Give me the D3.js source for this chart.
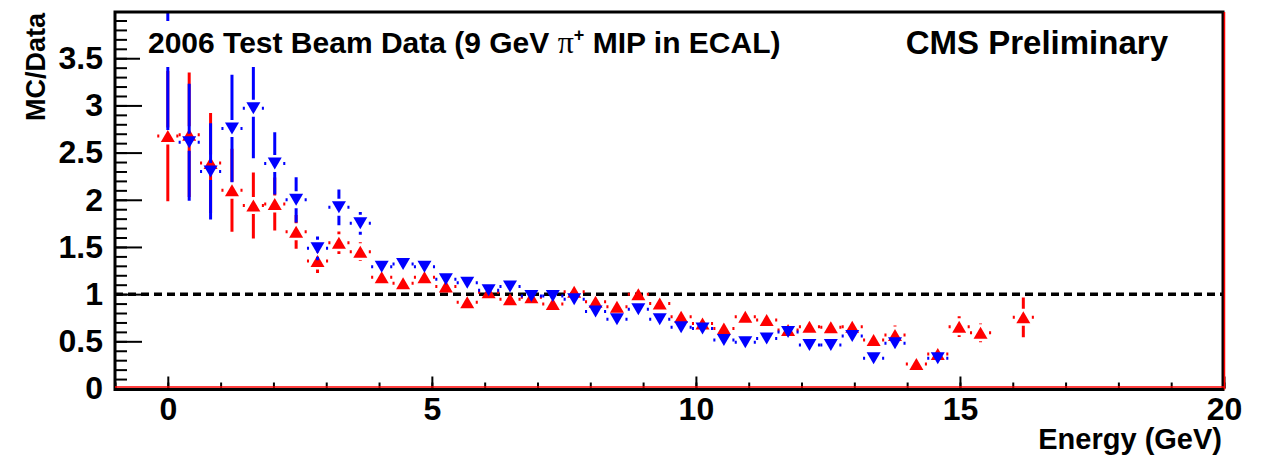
<!DOCTYPE html>
<html>
<head>
<meta charset="utf-8">
<script src="https://cdn.jsdelivr.net/npm/d3@7/dist/d3.min.js"></script>
<style>
  html, body { margin: 0; padding: 0; background: #fff; }
  svg { display: block; }
  text { font-family: "Liberation Sans", Arial, Helvetica, sans-serif; font-weight: bold; }
</style>
</head>
<body>
<svg id="chart" width="1269" height="456"></svg>
<script>
// ---- data ----
const energy = [0, 0.405, 0.81, 1.215, 1.62, 2.025, 2.43, 2.835, 3.24, 3.645,
  4.05, 4.455, 4.86, 5.265, 5.67, 6.075, 6.48, 6.885, 7.29, 7.695,
  8.1, 8.505, 8.91, 9.315, 9.72, 10.125, 10.53, 10.935, 11.34, 11.745,
  12.15, 12.555, 12.96, 13.365, 13.77, 14.175, 14.58, 14.985, 15.39, 15.795, 16.2];
const energyErr = 0.2;
const redValues = [2.675, 2.69, 2.39, 2.10, 1.94, 1.955, 1.66, 1.35, 1.545, 1.45,
  1.18, 1.115, 1.18, 1.08, 0.915, 1.02, 0.945, 0.966, 0.895, 1.025,
  0.92, 0.866, 1.00, 0.90, 0.76, 0.69, 0.637, 0.76, 0.725, 0.62,
  0.655, 0.648, 0.655, 0.515, 0.567, 0.26, 0.365, 0.655, 0.59, null, 0.754];
const redErrors = [0.69, 0.66, 0.53, 0.44, 0.35, 0.28, 0.18, 0.125, 0.12, 0.10,
  0.06, 0.06, 0.06, 0.05, 0.05, 0.05, 0.05, 0.05, 0.05, 0.05,
  0.05, 0.05, 0.05, 0.05, 0.05, 0.05, 0.05, 0.05, 0.05, 0.05,
  0.05, 0.05, 0.05, 0.05, 0.10, 0.05, 0.08, 0.11, 0.10, null, 0.21];
const blueValues = [3.62, 2.61, 2.30, 2.756, 2.97, 2.385, 2.00, 1.485, 1.92, 1.75,
  1.29, 1.32, 1.29, 1.157, 1.12, 1.04, 1.08, 0.98, 0.98, 0.945,
  0.815, 0.733, 0.84, 0.733, 0.648, 0.637, 0.514, 0.49, 0.53, 0.60,
  0.46, 0.46, 0.556, 0.32, 0.48, null, 0.32, null, null, null, null];
const blueErrors = [0.88, 0.62, 0.51, 0.57, 0.53, 0.33, 0.24, 0.125, 0.19, 0.12,
  0.06, 0.06, 0.06, 0.05, 0.05, 0.05, 0.05, 0.05, 0.05, 0.05,
  0.05, 0.05, 0.05, 0.05, 0.05, 0.05, 0.05, 0.05, 0.05, 0.05,
  0.05, 0.05, 0.05, 0.05, 0.05, null, 0.05, null, null, null, null];
const xMajorTicks = [0, 5, 10, 15, 20];
const xMinorTicks = d3.range(-1, 21, 1);
const yMajorTicks = [0, 0.5, 1, 1.5, 2, 2.5, 3, 3.5];
const yMinorTicks = d3.range(0, 40, 1).map(d => d / 10);
const referenceLine = 1;

// ---- layout ----
const L = 115, R = 1224, T = 12, B = 388.5;
const svg = d3.select("#chart");
const x = d3.scaleLinear().domain([-1, 20]).range([L, R]);
const y = d3.scaleLinear().domain([0, 3.99]).range([B, T]);

svg.append("rect").attr("width", 1269).attr("height", 456).attr("fill", "#fff");

svg.append("defs").append("clipPath").attr("id", "frameClip")
  .append("rect").attr("x", L).attr("y", T).attr("width", R - L).attr("height", B - T);

// axes (ticks inside)
function styleAxis(g) {
  g.select(".domain").remove();
  g.selectAll(".tick line").attr("stroke", "#000").attr("stroke-width", 2);
  g.selectAll(".tick text").attr("fill", "#000").style("font-size", "32px");
}
svg.append("g").attr("transform", `translate(0,${B})`)
  .call(d3.axisBottom(x).tickValues(xMinorTicks).tickSize(-6).tickFormat(""))
  .call(styleAxis);
svg.append("g").attr("transform", `translate(0,${B})`)
  .call(d3.axisBottom(x).tickValues(xMajorTicks).tickSize(-12).tickPadding(9).tickFormat(d3.format("d")))
  .call(styleAxis);
svg.append("g").attr("transform", `translate(${L},0)`)
  .call(d3.axisLeft(y).tickValues(yMinorTicks).tickSize(-12).tickFormat(""))
  .call(styleAxis);
svg.append("g").attr("transform", `translate(${L},0)`)
  .call(d3.axisLeft(y).tickValues(yMajorTicks).tickSize(-27).tickPadding(12).tickFormat(d => String(d)))
  .call(styleAxis);

// reference line
svg.append("line")
  .attr("x1", L).attr("x2", R).attr("y1", y(referenceLine)).attr("y2", y(referenceLine))
  .attr("stroke", "#000").attr("stroke-width", 3.5).attr("stroke-dasharray", "8,5");

// data series
const plot = svg.append("g").attr("clip-path", "url(#frameClip)");
const GAP = 8.5, TW = 14, TH = 12;
function triPath(up) {
  const hw = TW / 2, hh = TH / 2;
  return up ? `M0,${-hh}L${hw},${hh}L${-hw},${hh}Z` : `M0,${hh}L${hw},${-hh}L${-hw},${-hh}Z`;
}
function drawSeries(values, errors, color, up) {
  const pts = energy.map((e, i) => ({ e, v: values[i], err: errors[i] })).filter(d => d.v != null);
  const g = plot.append("g");
  pts.forEach(d => {
    const cx = x(d.e), cy = y(d.v);
    const yTop = y(d.v + d.err), yBot = y(d.v - d.err);
    const xl = x(d.e - energyErr), xr = x(d.e + energyErr);
    const segs = [];
    if (yTop < cy - GAP) segs.push([cx, yTop, cx, cy - GAP]);
    if (yBot > cy + GAP) segs.push([cx, cy + GAP, cx, yBot]);
    if (xl < cx - GAP) segs.push([xl, cy, cx - GAP, cy]);
    if (xr > cx + GAP) segs.push([cx + GAP, cy, xr, cy]);
    segs.forEach(s => g.append("line")
      .attr("x1", s[0]).attr("y1", s[1]).attr("x2", s[2]).attr("y2", s[3])
      .attr("stroke", color).attr("stroke-width", 3));
    g.append("path").attr("d", triPath(up))
      .attr("transform", `translate(${cx},${cy})`).attr("fill", color);
  });
}
drawSeries(redValues, redErrors, "#ff0000", true);
drawSeries(blueValues, blueErrors, "#0000ff", false);

// frame
svg.append("rect").attr("x", L).attr("y", T).attr("width", R - L - 1).attr("height", B - T + 1)
  .attr("fill", "none").attr("stroke", "#000").attr("stroke-width", 3);
svg.append("line").attr("x1", L).attr("x2", R).attr("y1", B - 1.5).attr("y2", B - 1.5)
  .attr("stroke", "#ff0000").attr("stroke-width", 1.5);
svg.append("line").attr("x1", R + 0.5).attr("x2", R + 0.5).attr("y1", T).attr("y2", B + 1)
  .attr("stroke", "#ff0000").attr("stroke-width", 1.5);

// title box
svg.append("rect").attr("x", 140).attr("y", 21).attr("width", 655).attr("height", 46).attr("fill", "#fff");
const title = svg.append("text").attr("x", 148).attr("y", 53).style("font-size", "30px").attr("fill", "#000");
title.append("tspan").text("2006 Test Beam Data (9 GeV ");
title.append("tspan").text("π").style("font-family", "'Liberation Serif', 'DejaVu Serif', serif").style("font-weight", "normal").style("font-size", "32px");
title.append("tspan").text("+").attr("dy", -12).style("font-size", "18px");
title.append("tspan").text(" MIP in ECAL)").attr("dy", 12);

svg.append("text").attr("x", 1168).attr("y", 54).attr("text-anchor", "end")
  .style("font-size", "33px").attr("fill", "#000").text("CMS Preliminary");

// axis titles
svg.append("text").attr("x", 1222).attr("y", 449).attr("text-anchor", "end")
  .style("font-size", "29px").attr("fill", "#000").text("Energy (GeV)");
svg.append("text").attr("transform", "translate(45,13) rotate(-90)").attr("text-anchor", "end")
  .style("font-size", "27px").attr("fill", "#000").text("MC/Data");
</script>
</body>
</html>
